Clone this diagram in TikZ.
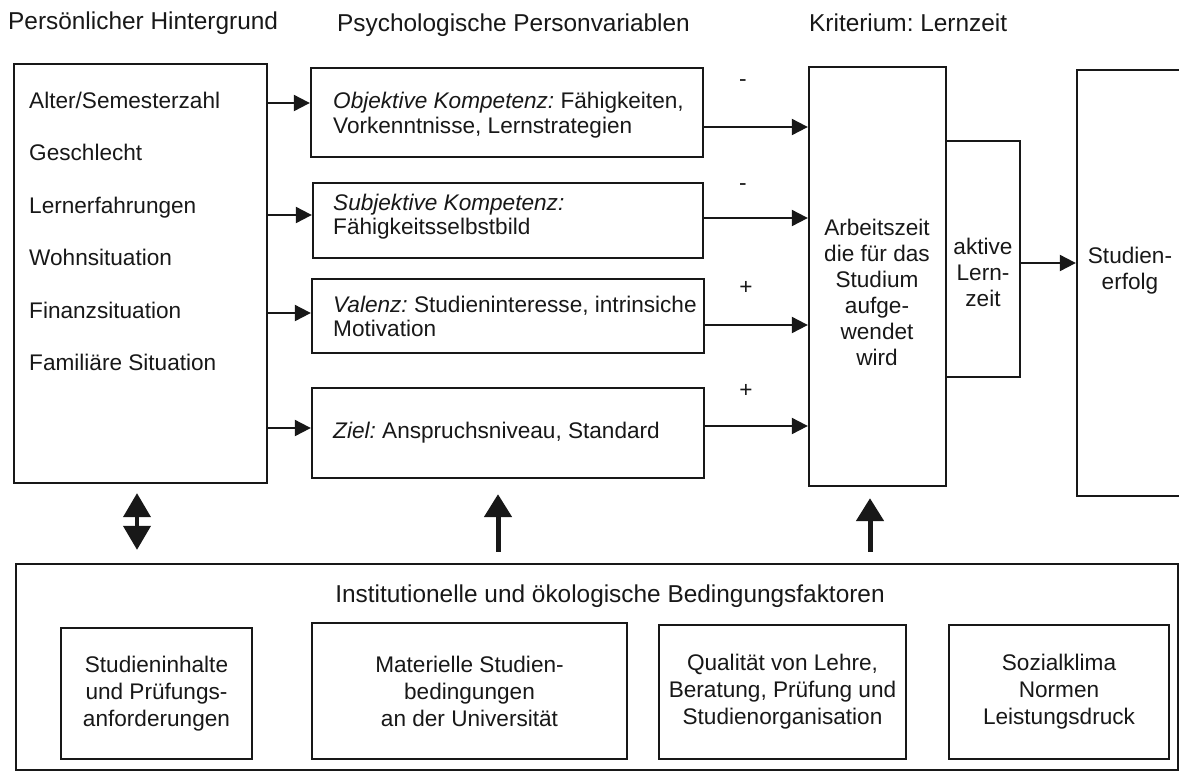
\documentclass[tikz,border=0pt]{standalone}
\usepackage{fontspec}
\setmainfont{Liberation Sans}
\frenchspacing
\usetikzlibrary{arrows.meta,calc}
\definecolor{ink}{HTML}{181818}
\begin{document}
\begin{tikzpicture}[x=1pt,y=-1pt,
  box/.style={draw=ink,line width=2.3pt,inner sep=0pt},
  hd/.style={font=\fontsize{24.4}{28}\selectfont,text=ink,inner sep=0pt},
  txt/.style={font=\fontsize{22.6}{24.5}\selectfont,text=ink,inner sep=0pt},
  btxt/.style={font=\fontsize{22.6}{27}\selectfont,text=ink,align=center},
  arr/.style={draw=ink,line width=2pt,-{Triangle[length=16pt,width=16pt]}},
  bigarr/.style={draw=ink,line width=5pt,-{Triangle[length=23pt,width=27pt]}},
  dblarr/.style={draw=ink,line width=4pt,{Triangle[length=24pt,width=27pt]}-{Triangle[length=24pt,width=27pt]}}
]
\useasboundingbox[fill=white] (0,0) rectangle (1179,772);

% column headings
\node[hd,anchor=base west] (h1) at (8,29) {Persönlicher Hintergrund};
\node[hd,anchor=base west] (h2) at (337,31) {Psychologische Personvariablen};
\node[hd,anchor=base west] (h3) at (809,31) {Kriterium: Lernzeit};

% personal background
\node[box,minimum width=253pt,minimum height=419pt] (lb) at (140.5,273.5) {};
\foreach \t [count=\i from 0] in {Alter/Semesterzahl,Geschlecht,Lernerfahrungen,Wohnsituation,Finanzsituation,Familiäre Situation}
  \node[txt,anchor=base west] (l\i) at (29,108.5+52.4*\i) {\t};

% psychological variables
\node[box,minimum width=392pt,minimum height=89pt] (m1) at (507,112.5) {};
\node[box,minimum width=390pt,minimum height=75pt] (m2) at (508,220.5) {};
\node[box,minimum width=392pt,minimum height=74pt] (m3) at (508,316) {};
\node[box,minimum width=392pt,minimum height=90pt] (m4) at (508,433) {};
\node[txt,anchor=west,align=left] (t1) at (333,115) {\textit{Objektive Kompetenz:} Fähigkeiten,\\Vorkenntnisse, Lernstrategien};
\node[txt,anchor=west,align=left] (t2) at (333,216.5) {\textit{Subjektive Kompetenz:}\\Fähigkeitsselbstbild};
\node[txt,anchor=west,align=left] (t3) at (333,316.5) {\textit{Valenz:} Studieninteresse, intrinsiche\\Motivation};
\node[txt,anchor=west,align=left] (t4) at (333,432.5) {\textit{Ziel:} Anspruchsniveau, Standard};

% criterion
\node[box,minimum width=137pt,minimum height=419pt] (az) at (877.5,276.5) {};
\node[box,minimum width=74pt,minimum height=236pt] (al) at (983,259) {};
\node[box,minimum width=113pt,minimum height=426pt] (se) at (1133.5,283) {};
\node[txt,align=center,font=\fontsize{22.6}{26}\selectfont] (azt) at (877,292) {Arbeitszeit\\die für das\\Studium\\aufge-\\wendet\\wird};
\node[txt,align=center,font=\fontsize{22.6}{26}\selectfont] (alt) at (983,272) {aktive\\Lern-\\zeit};
\node[txt,align=center,font=\fontsize{22.6}{26}\selectfont] (set) at (1130,271) {Studien-\\erfolg};

% institutional and ecological conditions
\node[box,minimum width=1162pt,minimum height=206pt] (inst) at (597,667) {};
\node[hd] (ih) at (610,596) {Institutionelle und ökologische Bedingungsfaktoren};
\node[box,btxt,minimum width=191pt,minimum height=131pt] (ba) at (156.5,693.5) {Studieninhalte\\und Prüfungs-\\anforderungen};
\node[box,btxt,minimum width=315pt,minimum height=136pt] (bb) at (469.5,691) {Materielle Studien-\\bedingungen\\an der Universität};
\node[box,btxt,minimum width=247pt,minimum height=134pt] (bc) at (782.5,692) {Qualität von Lehre,\\Beratung, Prüfung und\\Studienorganisation};
\node[box,btxt,minimum width=220pt,minimum height=134pt] (bd) at (1059,692) {Sozialklima\\Normen\\Leistungsdruck};

% background -> psychological variables
\coordinate (i1) at ($(m1.west)+(0,-9.5)$);
\coordinate (i2) at ($(m2.west)+(0,-5.5)$);
\coordinate (i3) at ($(m3.west)+(0,-3)$);
\coordinate (i4) at ($(m4.west)+(0,-5)$);
\foreach \k in {1,...,4} \draw[arr] (lb.east |- i\k) -- (i\k);

% psychological variables -> working time
\coordinate (o1) at ($(m1.east)+(0,14.5)$);
\coordinate (o2) at ($(m2.east)+(0,-2.5)$);
\coordinate (o3) at ($(m3.east)+(0,9)$);
\coordinate (o4) at ($(m4.east)+(0,-7)$);
\foreach \k in {1,...,4} \draw[arr] (o\k) -- (az.west |- o\k);

% signs of the effects
\node[txt] (s1) at (743,83) {-};
\node[txt] (s2) at (743,187) {-};
\node[txt] (s3) at (746,288) {+};
\node[txt] (s4) at (746,391) {+};

% active learning time -> success
\coordinate (a1) at ($(al.east)+(0,4)$);
\draw[arr] (a1) -- (se.west |- a1);

% institutional influences
\coordinate (d1) at ([xshift=-3.5pt]lb.south);
\draw[dblarr,shorten <=9pt,shorten >=13pt] (d1) -- (inst.north -| d1);
\coordinate (u1) at ([xshift=-10pt]m4.south);
\draw[bigarr,shorten <=11pt,shorten >=15pt] (inst.north -| u1) -- (u1);
\coordinate (u2) at ([xshift=-7.5pt]az.south);
\draw[bigarr,shorten <=11pt,shorten >=11pt] (inst.north -| u2) -- (u2);
\end{tikzpicture}
\end{document}
